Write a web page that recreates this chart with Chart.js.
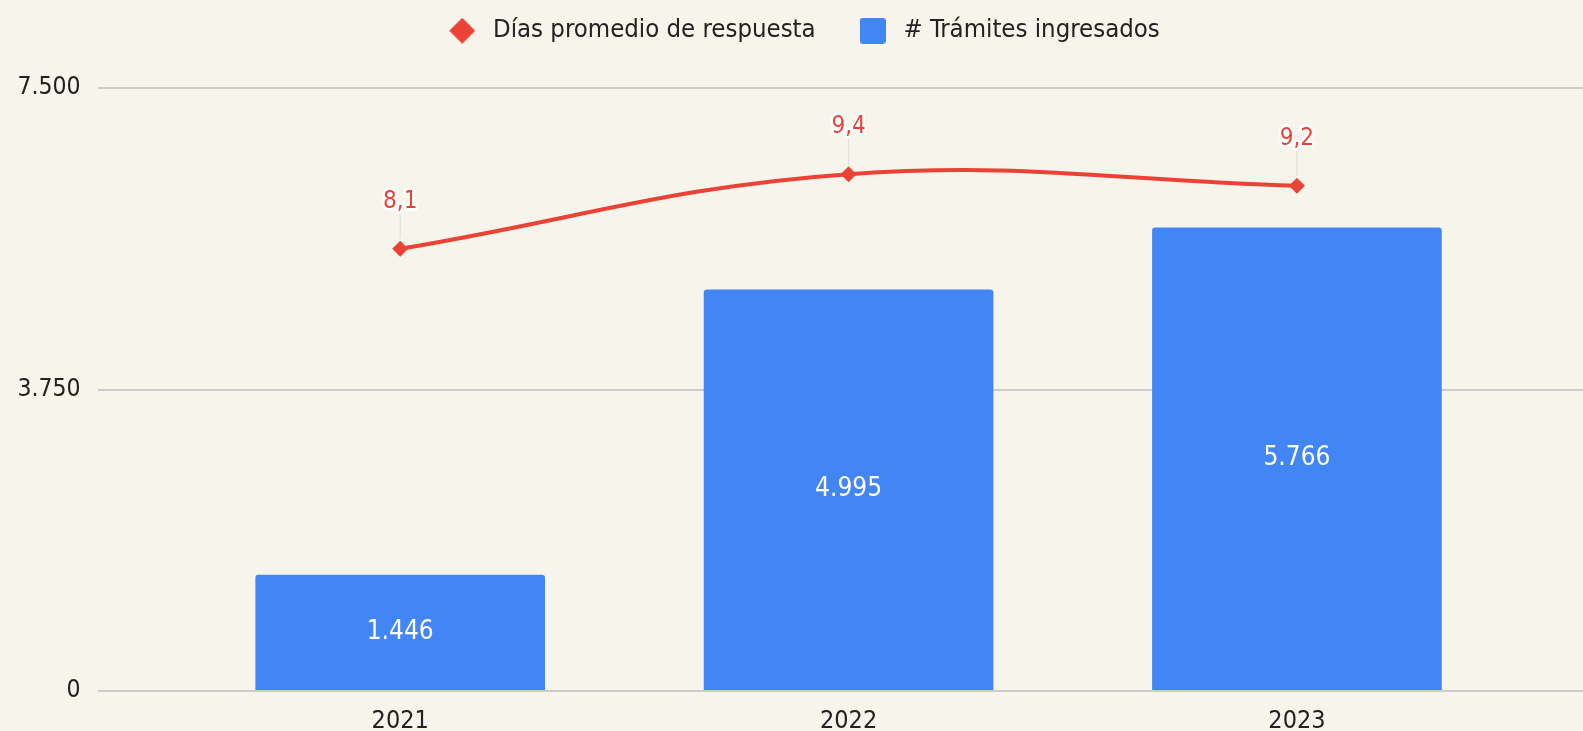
<!DOCTYPE html>
<html>
<head>
<meta charset="utf-8">
<script src="https://cdn.jsdelivr.net/npm/chart.js@4"></script>
<style>
  html, body { margin: 0; padding: 0; background: #f7f4ec; }
  #wrap { width: 1583px; height: 731px; }
</style>
</head>
<body>
<div id="wrap"><canvas id="myChart"></canvas></div>
<script>
const years = [2021, 2022, 2023];
const tramites = [1446, 4995, 5766];
const diasPromedio = [8.1, 9.4, 9.2];

const red = '#ea4335';
const blue = '#4285f4';
const ink = '#222222';
const font = "'DejaVu Sans Condensed', 'DejaVu Sans', sans-serif";

const miles = v => String(v).replace(/\B(?=(\d{3})+(?!\d))/g, '.');
const decimal = v => v.toFixed(1).replace('.', ',');

// little canvases used as legend markers
function marker(draw) {
  const c = document.createElement('canvas');
  c.width = 26;
  c.height = 26;
  draw(c.getContext('2d'));
  return c;
}
const diamond = marker(ctx => {
  ctx.fillStyle = red;
  ctx.beginPath();
  ctx.moveTo(13, 0);
  ctx.lineTo(26, 13);
  ctx.lineTo(13, 26);
  ctx.lineTo(0, 13);
  ctx.closePath();
  ctx.fill();
});
const square = marker(ctx => {
  ctx.fillStyle = blue;
  ctx.beginPath();
  ctx.roundRect(0, 0, 26, 26, 3);
  ctx.fill();
});

// value labels: white inside the bars, red with a leader line over the points
const valueLabels = {
  id: 'valueLabels',
  afterDatasetsDraw(chart) {
    const ctx = chart.ctx;
    ctx.save();
    ctx.textAlign = 'center';
    ctx.textBaseline = 'middle';

    ctx.font = `26px ${font}`;
    chart.getDatasetMeta(1).data.forEach((bar, i) => {
      ctx.fillStyle = '#ffffff';
      ctx.fillText(miles(tramites[i]), bar.x, (bar.y + bar.base) / 2);
    });

    ctx.font = `24px ${font}`;
    chart.getDatasetMeta(0).data.forEach((pt, i) => {
      ctx.strokeStyle = '#dddddd';
      ctx.lineWidth = 1;
      ctx.beginPath();
      ctx.moveTo(pt.x, pt.y - 10);
      ctx.lineTo(pt.x, pt.y - 35);
      ctx.stroke();

      const txt = decimal(diasPromedio[i]);
      ctx.lineJoin = 'round';
      ctx.lineWidth = 5;
      ctx.strokeStyle = '#ffffff';
      ctx.strokeText(txt, pt.x, pt.y - 47);
      ctx.fillStyle = red;
      ctx.fillText(txt, pt.x, pt.y - 47);
    });
    ctx.restore();
  }
};

// fixed legend band above the plot; the plot runs to the right edge of the canvas
const layoutTweaks = {
  id: 'layoutTweaks',
  beforeInit(chart) {
    const fit = chart.legend.fit;
    chart.legend.fit = function () {
      fit.call(this);
      this.height = 109;
    };
  },
  afterLayout(chart) {
    chart.legend.left += 10.5;
    chart.legend.right += 10.5;

    const area = chart.chartArea;
    area.right = chart.width;
    area.width = area.right - area.left;
    const x = chart.scales.x;
    x.right = chart.width;
    x.width = x.right - x.left;
    x.configure();
  }
};

const ctx = document.getElementById('myChart').getContext('2d');
const chart = new Chart(ctx, {
  data: {
    datasets: [
      {
        type: 'line',
        label: 'Días promedio de respuesta',
        data: years.map((x, i) => ({ x, y: diasPromedio[i] })),
        yAxisID: 'y1',
        borderColor: red,
        backgroundColor: red,
        borderWidth: 4,
        tension: 0.4,
        pointStyle: 'rectRot',
        pointRadius: 8,
        pointHoverRadius: 8,
        pointBackgroundColor: red,
        pointBorderWidth: 0
      },
      {
        type: 'bar',
        label: '# Trámites ingresados',
        data: years.map((x, i) => ({ x, y: tramites[i] })),
        yAxisID: 'y',
        backgroundColor: blue,
        borderRadius: { topLeft: 3, topRight: 3 },
        borderSkipped: 'bottom',
        barPercentage: 0.646,
        categoryPercentage: 1
      }
    ]
  },
  options: {
    responsive: true,
    maintainAspectRatio: false,
    animation: false,
    layout: { padding: { top: -21, right: 0, bottom: 0, left: 0 } },
    plugins: {
      legend: {
        position: 'top',
        labels: {
          usePointStyle: true,
          pointStyleWidth: 36,
          boxHeight: 26,
          padding: 39,
          color: ink,
          font: { family: font, size: 25.5 },
          generateLabels(chart) {
            const markers = [diamond, square];
            return chart.data.datasets.map((ds, i) => ({
              text: ds.label,
              pointStyle: markers[i],
              fillStyle: ds.backgroundColor,
              strokeStyle: ds.backgroundColor,
              lineWidth: 0,
              fontColor: ink,
              hidden: false,
              datasetIndex: i
            }));
          }
        }
      },
      tooltip: { enabled: false }
    },
    scales: {
      x: {
        type: 'linear',
        offset: false,
        min: 2020.326,
        max: 2023.638,
        grid: { display: false, offset: false },
        border: { display: false },
        afterBuildTicks(scale) {
          scale.ticks = scale.ticks.filter(t => Number.isInteger(t.value) && years.includes(t.value));
        },
        afterFit(scale) { scale.height = 40; },
        ticks: {
          stepSize: 1,
          includeBounds: false,
          padding: 7,
          color: ink,
          font: { family: font, size: 25 },
          callback: v => String(v)
        }
      },
      y: {
        position: 'left',
        min: 0,
        max: 7500,
        afterFit(scale) { scale.width = 98; },
        grid: { color: '#cccccc', lineWidth: 2, drawTicks: false },
        border: { display: false },
        ticks: {
          stepSize: 3750,
          padding: 17.5,
          color: ink,
          font: { family: font, size: 24.5 },
          callback: v => miles(v)
        }
      },
      y1: {
        display: false,
        position: 'right',
        min: 0.4,
        max: 10.9
      }
    }
  },
  plugins: [valueLabels, layoutTweaks]
});
</script>
</body>
</html>
